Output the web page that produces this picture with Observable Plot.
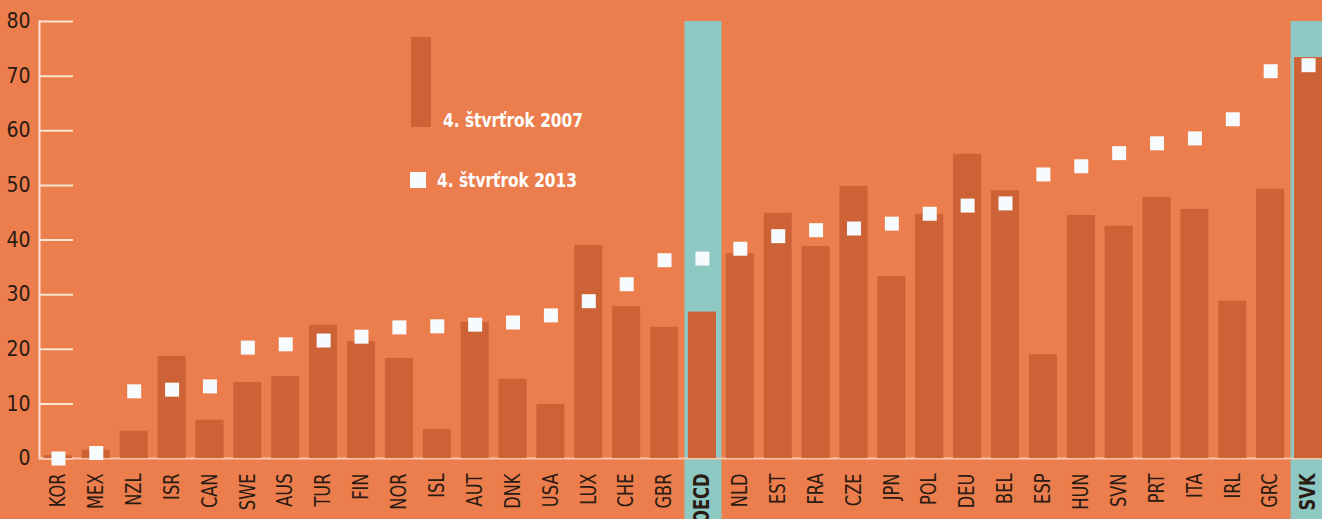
<!DOCTYPE html>
<html><head><meta charset="utf-8">
<script src="https://cdn.jsdelivr.net/npm/d3@7"></script>
<script src="https://cdn.jsdelivr.net/npm/@observablehq/plot@0.6"></script>
<style>
html,body{margin:0;padding:0;background:#ec7d4c;overflow:hidden;width:1322px;height:519px;}
#wrap{position:relative;width:1322px;height:519px;}
.lg{position:absolute;font-family:"Liberation Sans Narrow","DejaVu Sans Condensed",sans-serif;font-weight:bold;color:#fff;font-size:19px;white-space:nowrap;line-height:1;transform:scaleX(0.9);transform-origin:0 0;}
.lgbar{position:absolute;background:#cd6236;}
.lgsq{position:absolute;background:#f7fbfd;}
</style></head><body><div id="wrap"></div>
<script>
const categories = ["KOR","MEX","NZL","ISR","CAN","SWE","AUS","TUR","FIN","NOR","ISL","AUT","DNK","USA","LUX","CHE","GBR","OECD","NLD","EST","FRA","CZE","JPN","POL","DEU","BEL","ESP","HUN","SVN","PRT","ITA","IRL","GRC","SVK"];
const q2007 = [0.5,1.5,5,18.7,7,13.9,15,24.4,21.4,18.3,5.3,24.9,14.5,9.9,39,27.8,24,26.8,37.5,44.9,38.8,49.8,33.3,44.7,55.7,49,19,44.5,42.5,47.8,45.6,28.8,49.3,73.4];
const q2013 = [0,1,12.3,12.6,13.2,20.3,20.9,21.6,22.3,24,24.2,24.5,24.9,26.2,28.8,31.9,36.3,36.6,38.4,40.7,41.8,42.1,43,44.8,46.3,46.7,52,53.5,55.9,57.7,58.6,62.1,70.9,72];
const highlighted = ["OECD","SVK"];
const yTicks = [0,10,20,30,40,50,60,70,80];
const seriesLabels = ["4. štvrťrok 2007","4. štvrťrok 2013"];

const barColor = "#cd6236", teal = "#8dc8c3", ink = "#2a1b12", pale = "#fbe4d2";
const data = categories.map((c,i)=>({country:c, v2007:q2007[i], v2013:q2013[i]}));
const hl = data.filter(d=>highlighted.includes(d.country));

const W = 1322, H = 519, mL = 39, mR = -5, mT = 21, mB = 61;
const chart = Plot.plot({
  width: W, height: H, marginLeft: mL, marginRight: mR, marginTop: mT, marginBottom: mB,
  style: {background: "transparent", fontFamily: '"Liberation Sans Narrow","DejaVu Sans Condensed",sans-serif', overflow: "visible"},
  x: {domain: categories, paddingInner: 0.26, paddingOuter: 0.13, round: false, label: null},
  y: {domain: [0, 80], label: null},
  marks: [
    Plot.barY(hl, {x: "country", y1: 0, y2: 80, fill: teal, insetLeft: -3.5, insetRight: -5.5, insetBottom: -mB}),
    Plot.ruleY(yTicks, {stroke: pale, strokeWidth: 2, insetRight: (W - mL - mR) - 34}),
    Plot.frame({anchor: "left", stroke: pale, strokeWidth: 2}),
    Plot.ruleY([0], {stroke: "#f6c7ab", strokeWidth: 2}),
    Plot.barY(data, {x: "country", y: "v2007", fill: barColor}),
    Plot.dot(data, {x: "country", y: "v2013", symbol: "square", r: 7.9, fill: "#f7fbfd", stroke: null}),
    Plot.axisY(yTicks, {tickSize: 0, tickPadding: 9, fontSize: 21, fill: ink}),
    Plot.axisX({tickSize: 0, tickPadding: 15, tickRotate: -90, fontSize: 21, fill: ink})
  ]
});
const wrap = document.getElementById("wrap");
wrap.appendChild(chart);
chart.querySelectorAll("text").forEach(t => {
  const s = t.textContent;
  if (categories.includes(s)) {
    if (highlighted.includes(s)) t.setAttribute("font-weight", "bold");
    const L = t.getComputedTextLength();
    t.setAttribute("textLength", (L * 0.86).toFixed(1));
    t.setAttribute("lengthAdjust", "spacingAndGlyphs");
  }
});
// legend
const b = document.createElement("div"); b.className = "lgbar";
Object.assign(b.style, {left: "411px", top: "37px", width: "20px", height: "90px"}); wrap.appendChild(b);
const t1 = document.createElement("div"); t1.className = "lg"; t1.textContent = seriesLabels[0];
Object.assign(t1.style, {left: "443px", top: "111px"}); wrap.appendChild(t1);
const s = document.createElement("div"); s.className = "lgsq";
Object.assign(s.style, {left: "410px", top: "172px", width: "16px", height: "16px"}); wrap.appendChild(s);
const t2 = document.createElement("div"); t2.className = "lg"; t2.textContent = seriesLabels[1];
Object.assign(t2.style, {left: "437px", top: "171px"}); wrap.appendChild(t2);
</script>
</body></html>
